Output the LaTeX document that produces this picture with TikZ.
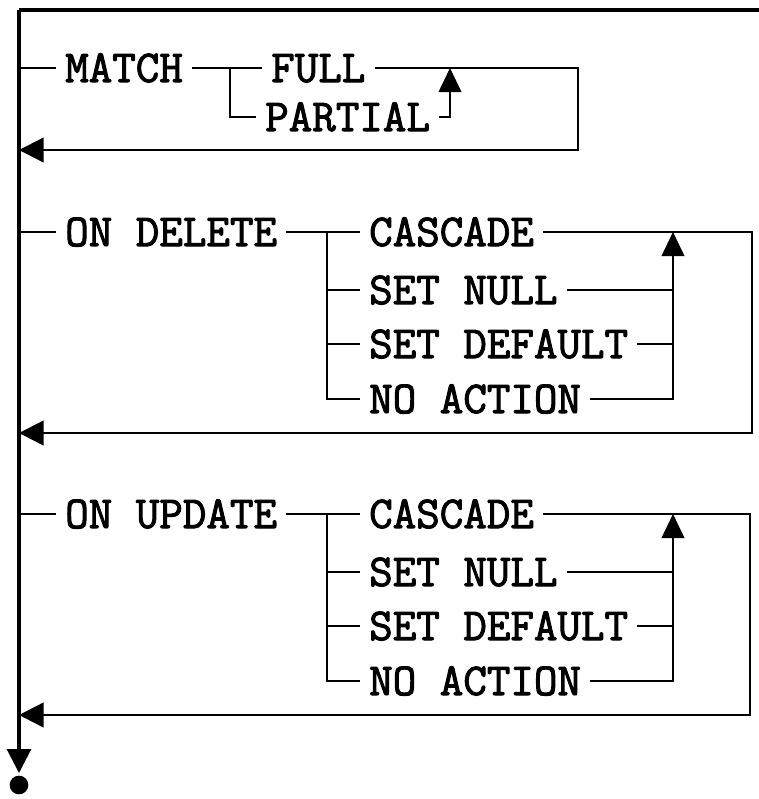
\documentclass[tikz,border=0pt]{standalone}
\usepackage{fontspec}
\usetikzlibrary{arrows.meta}
\newfontfamily\railfam{Latin Modern Mono}[FakeBold=2.2]
\newcommand{\railfont}{\fontsize{39}{39}\selectfont\railfam}

\begin{document}
\begin{tikzpicture}[
    x=0.03cm, y=-0.03cm,
    kw/.style={
        font=\railfont,
        anchor=west,
        inner xsep=0.27cm,
        inner ysep=0pt,
        text height=0.84cm,
        text depth=0pt
    },
    rail/.style={draw=black, line width=1.5pt},
    spine/.style={draw=black, line width=2.6pt},
    loopback/.style={draw=black, line width=2.0pt, -{Triangle[length=0.74cm, width=0.74cm]}},
    uparrow/.style={draw=black, line width=1.5pt, -{Triangle[length=0.72cm, width=0.68cm]}},
    stopdot/.style={circle, fill=black, inner sep=0pt, minimum size=0.56cm}
]

\useasboundingbox (0,0) rectangle (759,799);

% Main line
\coordinate (start) at (19,10);
\coordinate (topright) at (759,10);
\node[stopdot] (stop) at (19,785) {};
\coordinate (end) at (19,773);
\draw[spine] (topright) -- (start);
\draw[spine, -{Triangle[length=0.72cm, width=0.72cm]}] (start) -- (end);

% MATCH
\node[kw] (match) at (56,68) {MATCH};
\node[kw] (full) at (262,68) {FULL};
\node[kw] (partial) at (256,117) {PARTIAL};
\coordinate (mfork) at (230,68);
\coordinate (mjoin) at (450,68);
\coordinate (mloop) at (578,150);
\draw[rail] (start |- match) -- (match.west);
\draw[rail] (match.east) -- (full.west);
\draw[rail] (mfork) |- (partial.west);
\draw[loopback] (full.east) -| (mloop) -- (start |- mloop);
\draw[uparrow] (partial.east) -| (mjoin);

% ON DELETE / ON UPDATE
\foreach \act/\y/\rx in {DELETE/232/752, UPDATE/514/750} {
    \node[kw] (on\act) at (56,\y) {ON \act};
    \node[kw] (casc\act) at (360,\y) {CASCADE};
    \coordinate (fork\act) at (327,\y);
    \coordinate (join\act) at (673,\y);
    \coordinate (loop\act) at (\rx,\y+201);
    \draw[rail] (start |- on\act) -- (on\act.west);
    \draw[rail] (on\act.east) -- (casc\act.west);
    \draw[loopback] (casc\act.east) -| (loop\act) -- (start |- loop\act);
    \foreach \opt/\dy/\nm in {SET NULL/58/null, SET DEFAULT/112/dflt, NO ACTION/167/noact} {
        \node[kw] (\nm\act) at (360,\y+\dy) {\opt};
        \draw[rail] (fork\act) |- (\nm\act.west);
        \draw[rail] (\nm\act.east) -- (\nm\act.east -| join\act);
    }
    \draw[uparrow] (noact\act.east) -| (join\act);
}

\end{tikzpicture}
\end{document}
